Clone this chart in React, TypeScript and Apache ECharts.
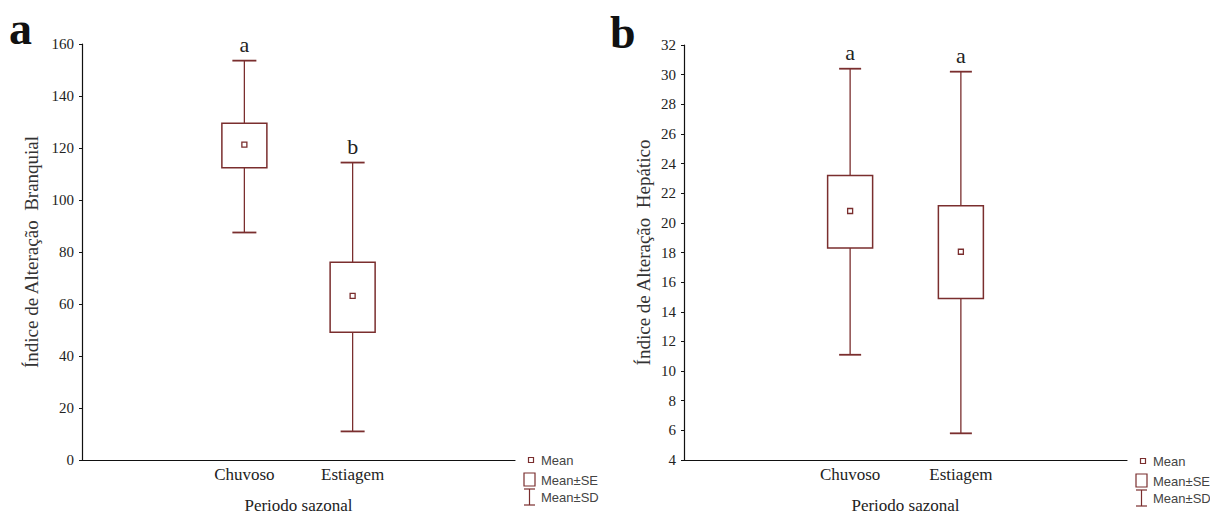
import React, { useEffect, useRef } from "react";
import * as echarts from "echarts";

const categories = ["", "Chuvoso", "Estiagem", ""];
const groupIdx = [1, 2];

const branqMean = [121.3, 63.1];
const branqSELow = [112.4, 49.1];
const branqSEHigh = [129.5, 76.1];
const branqSDLow = [87.5, 11.0];
const branqSDHigh = [153.6, 114.4];
const branqLetters = ["a", "b"];

const hepMean = [20.8, 18.05];
const hepSELow = [18.3, 14.9];
const hepSEHigh = [23.2, 21.15];
const hepSDLow = [11.1, 5.8];
const hepSDHigh = [30.4, 30.2];
const hepLetters = ["a", "a"];

const branqTicks = { min: 0, max: 160, interval: 20 };
const hepTicks = { min: 4, max: 32, interval: 2 };

const BOX = "#7a2e2e";
const SERIF = "'Liberation Serif', 'DejaVu Serif', serif";
const SANS = "'Liberation Sans', Arial, sans-serif";

function buildData(mean: number[], seL: number[], seH: number[], sdL: number[], sdH: number[], letters: string[]) {
  return groupIdx.map((g, i) => [g, mean[i], seL[i], seH[i], sdL[i], sdH[i], letters[i]]);
}

function makeRender(letters: string[], capHalf: number) {
  return (params: any, api: any) => {
    const c = api.value(0);
    const mean = api.coord([c, api.value(1)]);
    const seL = api.coord([c, api.value(2)]);
    const seH = api.coord([c, api.value(3)]);
    const sdL = api.coord([c, api.value(4)]);
    const sdH = api.coord([c, api.value(5)]);
    const x = mean[0];
    const half = 22.5;
    const ls = { stroke: BOX, lineWidth: 1.3, fill: null };
    return {
      type: "group",
      children: [
        { type: "line", shape: { x1: x, y1: sdH[1], x2: x, y2: seH[1] }, style: ls },
        { type: "line", shape: { x1: x, y1: seL[1], x2: x, y2: sdL[1] }, style: ls },
        { type: "line", shape: { x1: x - capHalf, y1: sdH[1], x2: x + capHalf, y2: sdH[1] }, style: { ...ls, lineWidth: 1.8 } },
        { type: "line", shape: { x1: x - capHalf, y1: sdL[1], x2: x + capHalf, y2: sdL[1] }, style: { ...ls, lineWidth: 1.8 } },
        { type: "rect", shape: { x: x - half, y: seH[1], width: half * 2, height: seL[1] - seH[1] }, style: { stroke: BOX, lineWidth: 1.5, fill: "#fff" } },
        { type: "rect", shape: { x: x - 2.5, y: mean[1] - 2.5, width: 5, height: 5 }, style: { stroke: BOX, lineWidth: 1.3, fill: "#fff" } },
        {
          type: "text",
          style: {
            text: letters[params.dataIndex],
            x: x,
            y: sdH[1] - 5,
            align: "center",
            verticalAlign: "bottom",
            fontFamily: SERIF,
            fontSize: 22,
            fill: "#222",
          },
        },
      ],
    };
  };
}

function legend(x: number, y: number) {
  const ts = { fontFamily: SANS, fontSize: 13, fill: "#444", verticalAlign: "middle" };
  return [
    { type: "rect", shape: { x: x + 1.5, y: y - 2.5, width: 5, height: 5 }, style: { stroke: BOX, lineWidth: 1.2, fill: "#fff" } },
    { type: "text", style: { ...ts, text: "Mean", x: x + 14, y: y } },
    { type: "rect", shape: { x: x - 3, y: y + 13, width: 11, height: 13 }, style: { stroke: BOX, lineWidth: 1.2, fill: "#fff" } },
    { type: "text", style: { ...ts, text: "Mean±SE", x: x + 14, y: y + 20 } },
    { type: "line", shape: { x1: x + 2.5, y1: y + 29, x2: x + 2.5, y2: y + 45 }, style: { stroke: BOX, lineWidth: 1.2 } },
    { type: "line", shape: { x1: x - 3, y1: y + 29, x2: x + 8, y2: y + 29 }, style: { stroke: BOX, lineWidth: 1.2 } },
    { type: "line", shape: { x1: x - 3, y1: y + 45, x2: x + 8, y2: y + 45 }, style: { stroke: BOX, lineWidth: 1.2 } },
    { type: "text", style: { ...ts, text: "Mean±SD", x: x + 14, y: y + 37 } },
  ];
}

function xAxisCfg(gridIndex: number) {
  return {
    type: "category",
    gridIndex,
    data: categories,
    boundaryGap: true,
    name: "Periodo sazonal",
    nameLocation: "middle",
    nameGap: 37,
    nameTextStyle: { fontFamily: SERIF, fontSize: 17, color: "#222" },
    axisLine: { lineStyle: { color: "#111", width: 1.2 } },
    axisTick: { alignWithLabel: true, inside: true, length: 4, interval: 0, lineStyle: { color: "#111" } },
    axisLabel: { interval: 0, margin: 6, fontFamily: SERIF, fontSize: 17, color: "#222" },
    splitLine: { show: false },
  };
}

function yAxisCfg(gridIndex: number, name: string, t: { min: number; max: number; interval: number }, gap: number) {
  return {
    type: "value",
    gridIndex,
    min: t.min,
    max: t.max,
    interval: t.interval,
    name,
    nameLocation: "middle",
    nameGap: gap,
    nameTextStyle: { fontFamily: SERIF, fontSize: 19, color: "#333" },
    axisLine: { show: true, lineStyle: { color: "#111", width: 1.2 } },
    axisTick: { show: true, length: 3, lineStyle: { color: "#111" } },
    axisLabel: { margin: 8, fontFamily: SERIF, fontSize: 15, color: "#222" },
    splitLine: { show: false },
  };
}

export default function App() {
  const ref = useRef<HTMLDivElement>(null);
  useEffect(() => {
    if (!ref.current) return;
    const chart = echarts.init(ref.current, null, { renderer: "svg" });
    chart.setOption({
      animation: false,
      backgroundColor: "#fff",
      grid: [
        { left: 82, top: 44, width: 433, height: 420 },
        { left: 684, top: 45, width: 443, height: 424 },
      ],
      xAxis: [xAxisCfg(0), xAxisCfg(1)],
      yAxis: [
        yAxisCfg(0, "Índice de Alteração  Branquial", branqTicks, 41),
        yAxisCfg(1, "Índice de Alteração  Hepático", hepTicks, 31),
      ],
      series: [
        {
          type: "custom",
          xAxisIndex: 0,
          yAxisIndex: 0,
          data: buildData(branqMean, branqSELow, branqSEHigh, branqSDLow, branqSDHigh, branqLetters),
          renderItem: makeRender(branqLetters, 12),
        },
        {
          type: "custom",
          xAxisIndex: 1,
          yAxisIndex: 1,
          data: buildData(hepMean, hepSELow, hepSEHigh, hepSDLow, hepSDHigh, hepLetters),
          renderItem: makeRender(hepLetters, 11),
        },
      ],
      graphic: [
        { type: "text", style: { text: "a", x: 9, y: 28, verticalAlign: "middle", fontFamily: SERIF, fontWeight: "bold", fontSize: 46, fill: "#111" } },
        { type: "text", style: { text: "b", x: 610, y: 32, verticalAlign: "middle", fontFamily: SERIF, fontWeight: "bold", fontSize: 46, fill: "#111" } },
        ...legend(527, 460),
        ...legend(1139, 461),
      ],
    });
    return () => chart.dispose();
  }, []);
  return <div ref={ref} style={{ position: "fixed", left: 0, top: 0, width: 1210, height: 519 }} />;
}
